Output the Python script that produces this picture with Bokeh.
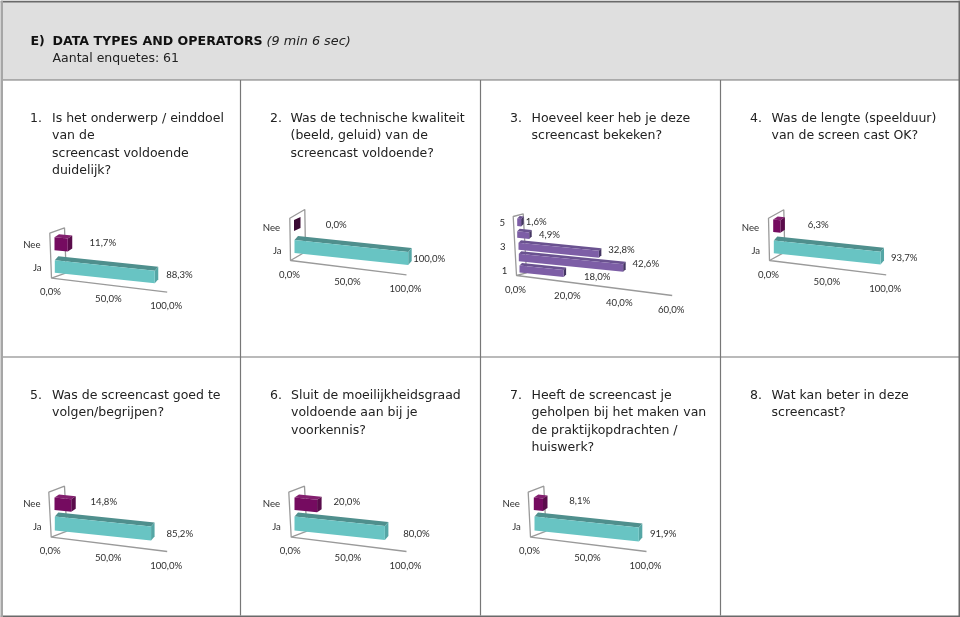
from bokeh.plotting import figure
from bokeh.models import Range1d
from bokeh.embed import file_html
from bokeh.resources import INLINE
from bokeh.core.properties import value

# ---------- data ----------
HEADER_NUM = "E)"
HEADER_BOLD = "DATA TYPES AND OPERATORS"
HEADER_ITALIC = "(9 min 6 sec)"
HEADER_SUB = "Aantal enquetes: 61"

Q1 = ["Is het onderwerp / einddoel", "van de", "screencast voldoende", "duidelijk?"]
Q2 = ["Was de technische kwaliteit", "(beeld, geluid) van de", "screencast voldoende?"]
Q3 = ["Hoeveel keer heb je deze", "screencast bekeken?"]
Q4 = ["Was de lengte (speelduur)", "van de screen cast OK?"]
Q5 = ["Was de screencast goed te", "volgen/begrijpen?"]
Q6 = ["Sluit de moeilijkheidsgraad", "voldoende aan bij je", "voorkennis?"]
Q7 = ["Heeft de screencast je", "geholpen bij het maken van", "de praktijkopdrachten /", "huiswerk?"]
Q8 = ["Wat kan beter in deze", "screencast?"]
QUESTIONS = [Q1, Q2, Q3, Q4, Q5, Q6, Q7, Q8]

YES_NO = ["Ja", "Nee"]
SCALE_5 = ["1", "", "3", "", "5"]
V1 = [88.3, 11.7]
V2 = [100.0, 0.0]
V3 = [18.0, 42.6, 32.8, 4.9, 1.6]
V4 = [93.7, 6.3]
V5 = [85.2, 14.8]
V6 = [80.0, 20.0]
V7 = [91.9, 8.1]
TICKS_YN = [0, 50, 100]
TICKS_5 = [0, 20, 40, 60]

def pct(v):
    return f"{v:.1f}".replace(".", ",") + "%"

# ---------- styles / layout ----------
TEAL = ("#68c4c3", "#4f8f8d", "#55a6a5")
MAROON = ("#750b60", "#83206f", "#5a0c4b")
MAROON_EMPTY = ("#750b60", "#3a0a33", "#3a0a33")
PURPLE = ("#7d5ea6", "#6a5290", "#453663")
TXT = "#222222"
AX = "#9a9a9a"
BORDER = "#777777"

NEE_DEPTH = (4.5, -3)
JA_DEPTH = (3.5, -4)

# floor origin, floor end, wall top, back top, px per %, slope, rows (x0, top, height),
# category label xy, value label xy
PANELS = [
    dict(cats=YES_NO, vals=V1, ticks=TICKS_YN, f0=(51, 277.7), f1=(166.7, 291.7), wt=(49.3, 232.7), bt=(64, 227.3),
         k=1.132, s=0.105, rows=[(54.3, 259.7, 12.5), (54, 236.7, 13)], depth=[JA_DEPTH, NEE_DEPTH],
         cxy=[(36.7, 267), (31.3, 244.3)], vxy=[(179, 274.7), (102.3, 242.3)], cols=[TEAL, MAROON]),
    dict(cats=YES_NO, vals=V2, ticks=TICKS_YN, f0=(290, 260), f1=(406, 274.3), wt=(289.3, 217.7), bt=(304.3, 209),
         k=1.137, s=0.105, rows=[(294, 239.5, 13), (293.5, 219.5, 11)], depth=[JA_DEPTH, (6.5, -3)],
         cxy=[(276.7, 250), (271, 227)], vxy=[(428.7, 258.3), (335.7, 224.3)], cols=[TEAL, MAROON_EMPTY]),
    dict(cats=SCALE_5, vals=V3, ticks=TICKS_5, f0=(516, 275), f1=(671.7, 295), wt=(512.7, 216), bt=(522.7, 213.3),
         k=2.45, s=0.1, rows=[(519, 265, 7), (518.3, 253.3, 7.5), (518, 242.3, 7), (516.7, 230.7, 6.5), (516.7, 218, 7.5)],
         depth=[(2.5, -2.5)] * 5,
         cxy=[(504, 270), None, (502.3, 246.3), None, (501.7, 222.7)],
         vxy=[(596.7, 276.3), (645.3, 263.7), (621, 249.7), (549, 234), (535.7, 221.7)],
         cols=[PURPLE] * 5),
    dict(cats=YES_NO, vals=V4, ticks=TICKS_YN, f0=(769, 260), f1=(885.7, 274.3), wt=(768, 217.7), bt=(783.3, 209.3),
         k=1.139, s=0.105, rows=[(773.3, 240, 12.7), (772.7, 219, 12.5)], depth=[JA_DEPTH, NEE_DEPTH],
         cxy=[(755.3, 250), (750, 227)], vxy=[(903.7, 257.3), (817.7, 224.3)], cols=[TEAL, MAROON]),
    dict(cats=YES_NO, vals=V5, ticks=TICKS_YN, f0=(50.7, 536.7), f1=(166.7, 551), wt=(48.3, 491.7), bt=(64, 485.7),
         k=1.13, s=0.105, rows=[(54.3, 516, 14), (54, 497, 12.5)], depth=[JA_DEPTH, NEE_DEPTH],
         cxy=[(36.7, 526), (31.3, 503.3)], vxy=[(179.3, 533.3), (103.3, 501.7)], cols=[TEAL, MAROON]),
    dict(cats=YES_NO, vals=V6, ticks=TICKS_YN, f0=(290.7, 536.7), f1=(406, 551), wt=(288.3, 491.7), bt=(304, 485.7),
         k=1.13, s=0.105, rows=[(294, 516, 14), (294, 497, 12.5)], depth=[JA_DEPTH, NEE_DEPTH],
         cxy=[(276, 526), (271, 503.3)], vxy=[(416, 533.3), (346.3, 501.7)], cols=[TEAL, MAROON]),
    dict(cats=YES_NO, vals=V7, ticks=TICKS_YN, f0=(530, 536.7), f1=(646, 551), wt=(527.7, 491.7), bt=(543.3, 485.7),
         k=1.135, s=0.105, rows=[(534, 516, 14), (533.3, 497, 12.5)], depth=[JA_DEPTH, NEE_DEPTH],
         cxy=[(516, 526), (510.7, 503.3)], vxy=[(662.7, 533.7), (579.3, 500.7)], cols=[TEAL, MAROON]),
]
Q_X = [(29.5, 51.5), (269.5, 290), (509.5, 531), (749.5, 771), (29.5, 51.5), (269.5, 290.5), (509.5, 531), (749.5, 771)]
Q_Y0 = [117, 117, 117, 117, 394, 394, 394, 394]
LINE_H = 17.3
CHART_FONT = "Lato"

p = figure(width=960, height=617, x_range=Range1d(0, 960), y_range=Range1d(617, 0),
           output_backend="svg", toolbar_location=None, min_border=0,
           styles={"position": "fixed", "left": "0px", "top": "0px"})
p.axis.visible = False
p.grid.visible = False
p.outline_line_color = None
p.background_fill_color = "#ffffff"

# header band and table rules
p.quad(left=[1], right=[959], top=[1], bottom=[79.5], fill_color="#dfdfdf", line_color=None)
rx = [[1, 959], [1, 959], [240, 240], [480, 480], [720, 720]]
ry = [[79.5, 79.5], [356.5, 356.5], [79.5, 615], [79.5, 615], [79.5, 615]]
p.multi_line(xs=rx, ys=ry, line_color=BORDER, line_width=1.2)
p.multi_line(xs=[[0, 960], [0, 960], [959, 959]], ys=[[1, 1], [616, 616], [0, 617]],
             line_color="#6a6a6a", line_width=2)
p.multi_line(xs=[[1, 1]], ys=[[0, 617]], line_color="#a6a6a6", line_width=3)

# axes frames
for c in PANELS:
    (x0, y0), (x1, y1), (wx, wy), (bx, by) = c["f0"], c["f1"], c["wt"], c["bt"]
    p.multi_line(xs=[[x1, x0, wx, bx, bx + (x0 - wx), x0]],
                 ys=[[y1, y0, wy, by, by + (y0 - wy), y0]],
                 line_color=AX, line_width=1.3)

# 3-D bars: every polygon is derived from the values
for c in PANELS:
    for v, (x, top, h), col, (dx, dy) in reversed(list(zip(c["vals"], c["rows"], c["cols"], c["depth"]))):
        xe = x + v * c["k"]
        drop = (xe - x) * c["s"]
        tx = [x, xe, xe + dx, x + dx]
        ty = [top, top + drop, top + drop + dy, top + dy]
        sx = [xe, xe + dx, xe + dx, xe]
        sy = [top + drop, top + drop + dy, top + drop + dy + h, top + drop + h]
        fx = [x, xe, xe, x]
        fy = [top, top + drop, top + drop + h, top + h]
        p.patches(xs=[tx, sx, fx], ys=[ty, sy, fy], fill_color=[col[1], col[2], col[0]], line_color=None)

# chart labels
lx, ly, lt = [], [], []
for c in PANELS:
    (x0, y0), (x1, y1) = c["f0"], c["f1"]
    tmax = c["ticks"][-1]
    for t in c["ticks"]:
        f = t / tmax
        lx.append(x0 + (x1 - x0) * f - 1); ly.append(y0 + (y1 - y0) * f + 14); lt.append(pct(t))
    for name, xy in zip(c["cats"], c["cxy"]):
        if xy:
            lx.append(xy[0]); ly.append(xy[1]); lt.append(name)
    for v, xy in zip(c["vals"], c["vxy"]):
        lx.append(xy[0]); ly.append(xy[1]); lt.append(pct(v))
p.text(x=lx, y=[v - 0.5 for v in ly], text=lt, text_font=value(CHART_FONT), text_font_size="9.6px", text_color="#2e2e2e",
       text_align="center", text_baseline="middle")

# question texts
qx, qy, qt = [], [], []
for i, lines in enumerate(QUESTIONS):
    qx.append(Q_X[i][0]); qy.append(Q_Y0[i]); qt.append(f"{i + 1}.")
    for j, line in enumerate(lines):
        qx.append(Q_X[i][1]); qy.append(Q_Y0[i] + j * LINE_H); qt.append(line)
p.text(x=qx, y=qy, text=qt, text_font=value("DejaVu Sans"), text_font_size="12.5px", text_color=TXT,
       text_baseline="middle")

# header
p.text(x=[30, 52], y=[40, 40], text=[HEADER_NUM, HEADER_BOLD], text_font=value("DejaVu Sans"),
       text_font_size="12.6px", text_font_style="bold", text_color="#111111", text_baseline="middle")
p.text(x=[266], y=[40], text=[HEADER_ITALIC], text_font=value("DejaVu Sans"), text_font_size="12.8px",
       text_font_style="italic", text_color=TXT, text_baseline="middle")
p.text(x=[52], y=[57], text=[HEADER_SUB], text_font=value("DejaVu Sans"), text_font_size="12.5px",
       text_color=TXT, text_baseline="middle")

open("out.html", "w").write(file_html(p, INLINE))
